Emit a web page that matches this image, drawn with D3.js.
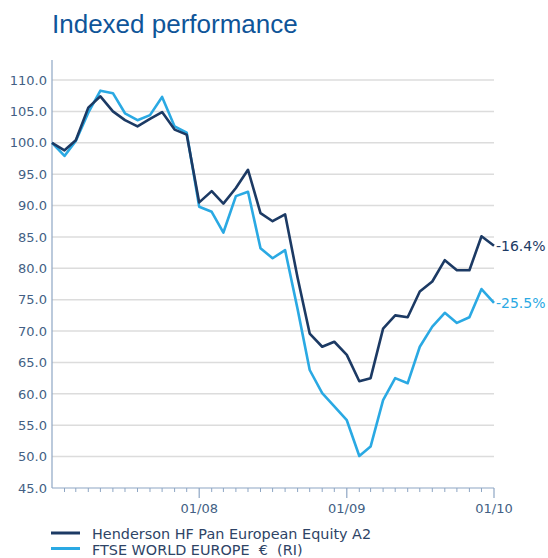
<!DOCTYPE html>
<html>
<head>
<meta charset="utf-8">
<script src="https://cdn.jsdelivr.net/npm/d3@7"></script>
<style>
  html, body { margin: 0; padding: 0; background: #fff; }
  svg { display: block; }
</style>
</head>
<body>
<svg id="chart" width="548" height="558"></svg>
<script>
// Monthly index values, rebased to 100 at January 2007
const months = d3.range(0, 37).map(i => new Date(2007, i, 1));
const henderson = [100, 98.8, 100.4, 105.6, 107.4, 105.0, 103.6, 102.6, 103.8, 104.9, 102.1, 101.3,
  90.5, 92.3, 90.3, 92.8, 95.7, 88.8, 87.5, 88.6, 78.5, 69.6, 67.5, 68.3,
  66.2, 62.0, 62.5, 70.4, 72.5, 72.2, 76.3, 77.9, 81.3, 79.7, 79.7, 85.1, 83.6];
const ftse = [100, 97.9, 100.3, 104.8, 108.3, 107.9, 104.7, 103.6, 104.4, 107.3, 102.6, 101.6,
  89.8, 89.0, 85.7, 91.5, 92.2, 83.2, 81.6, 82.9, 73.5, 63.8, 60.1, 58.0,
  55.8, 50.1, 51.6, 59.0, 62.5, 61.7, 67.5, 70.7, 72.9, 71.3, 72.2, 76.7, 74.5];
const seriesNames = ["Henderson HF Pan European Equity A2", "FTSE WORLD EUROPE\u00a0\u00a0\u20ac\u00a0\u00a0(RI)"];
const endLabels = ["-16.4%", "-25.5%"];
const yTicks = [45, 50, 55, 60, 65, 70, 75, 80, 85, 90, 95, 100, 105, 110];

const colors = ["#1c3a64", "#2aa9e3"];
const axisColor = "#8ea6c4";
const labelColor = "#435f84";

const svg = d3.select("#chart");
const plotLeft = 52, plotRight = 494, plotTop = 80, plotBottom = 488;

const x = d3.scaleTime()
  .domain([new Date(2007, 0, 1), new Date(2010, 0, 1)])
  .range([plotLeft, plotRight]);
const y = d3.scaleLinear().domain([45, 110]).range([plotBottom, plotTop]);

// Title
svg.append("text")
  .attr("x", 52).attr("y", 33)
  .attr("font-family", "Liberation Sans, Arial, sans-serif")
  .attr("font-size", 26)
  .attr("fill", "#0f5599")
  .text("Indexed performance");

// Horizontal gridlines
svg.append("g")
  .selectAll("line")
  .data(yTicks.filter(d => d > 45))
  .join("line")
  .attr("x1", plotLeft).attr("x2", plotRight)
  .attr("y1", d => y(d)).attr("y2", d => y(d))
  .attr("stroke", "#dcdcdc")
  .attr("stroke-width", 1.5);

// Y axis
const yAxis = svg.append("g")
  .attr("transform", `translate(${plotLeft},0)`)
  .call(d3.axisLeft(y).tickValues(yTicks).tickFormat(d3.format(".1f")).tickSize(0).tickPadding(5));
yAxis.select(".domain").remove();
yAxis.selectAll("text")
  .attr("font-family", "DejaVu Sans, sans-serif")
  .attr("font-size", 13)
  .attr("fill", labelColor);
svg.append("line")
  .attr("x1", plotLeft).attr("x2", plotLeft)
  .attr("y1", 60).attr("y2", plotBottom)
  .attr("stroke", axisColor).attr("stroke-width", 1.2);

// X axis: minor monthly ticks and labelled January ticks
const xAxisG = svg.append("g").attr("transform", `translate(0,${plotBottom})`);
xAxisG.append("line")
  .attr("x1", plotLeft).attr("x2", plotRight)
  .attr("y1", 0).attr("y2", 0)
  .attr("stroke", axisColor).attr("stroke-width", 1.2);
const minor = months.slice(1).filter(d => d.getMonth() !== 0);
const major = months.slice(1).filter(d => d.getMonth() === 0);
xAxisG.selectAll("line.minor")
  .data(minor)
  .join("line").attr("class", "minor")
  .attr("x1", d => x(d)).attr("x2", d => x(d))
  .attr("y1", 0).attr("y2", 4)
  .attr("stroke", axisColor).attr("stroke-width", 1);
xAxisG.selectAll("line.major")
  .data(major)
  .join("line").attr("class", "major")
  .attr("x1", d => x(d)).attr("x2", d => x(d))
  .attr("y1", 0).attr("y2", 10)
  .attr("stroke", axisColor).attr("stroke-width", 1.2);
const fmt = d3.timeFormat("%m/%y");
xAxisG.selectAll("text")
  .data(major)
  .join("text")
  .attr("x", d => x(d)).attr("y", 25)
  .attr("text-anchor", "middle")
  .attr("font-family", "DejaVu Sans, sans-serif")
  .attr("font-size", 13)
  .attr("fill", labelColor)
  .text(d => fmt(d));

// Lines (benchmark drawn first, fund on top)
const line = d3.line().x((d, i) => x(months[i])).y(d => y(d));
const data = [henderson, ftse];
[1, 0].forEach(k => {
  svg.append("path")
    .datum(data[k])
    .attr("fill", "none")
    .attr("stroke", colors[k])
    .attr("stroke-width", 2.6)
    .attr("stroke-linejoin", "round")
    .attr("d", line);
});

// End-of-period labels
data.forEach((s, k) => {
  svg.append("text")
    .attr("x", x(months[months.length - 1]) + 2)
    .attr("y", y(s[s.length - 1]) + 5)
    .attr("font-family", "DejaVu Sans, sans-serif")
    .attr("font-size", 14)
    .attr("fill", colors[k])
    .text(endLabels[k]);
});

// Legend
const legend = svg.append("g");
seriesNames.forEach((name, k) => {
  const ly = 533 + k * 15.5;
  legend.append("line")
    .attr("x1", 51).attr("x2", 80)
    .attr("y1", ly).attr("y2", ly)
    .attr("stroke", colors[k]).attr("stroke-width", 3);
  legend.append("text")
    .attr("x", 92).attr("y", ly + 6)
    .attr("font-family", "DejaVu Sans, sans-serif")
    .attr("font-size", 14.4)
    .attr("fill", "#2e4466")
    .text(name);
});
</script>
</body>
</html>
